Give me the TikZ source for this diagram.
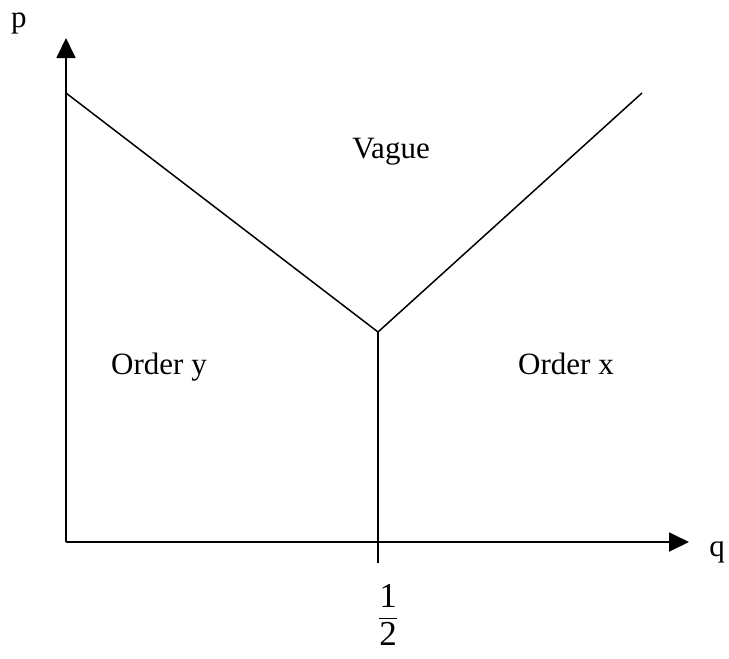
\documentclass[tikz,border=0pt]{standalone}
\usepackage{amsmath}
\usepackage{fontspec}
\setmainfont{Liberation Serif}
\usetikzlibrary{arrows.meta}

\begin{document}
\begin{tikzpicture}[x=1pt,y=-1pt,
  every node/.style={font=\fontsize{31}{37}\selectfont,inner sep=0pt},
  axis/.style={line width=1.8pt,-{Triangle[length=20pt,width=19pt]}},
  border/.style={line width=1.5pt}]
\useasboundingbox (0,0) rectangle (729,659);
\coordinate (o) at (66,542);
\coordinate (ptip) at (66,38);
\coordinate (qtip) at (689,542);
\coordinate (ltop) at (66,93);
\coordinate (rtop) at (642,93);
\coordinate (v) at (378,332);
\coordinate (vbot) at (378,563);

\draw[axis] (o) -- (ptip);
\draw[axis] (o) -- (qtip);
\draw[border] (ltop) -- (v) -- (rtop);
\draw[line width=1.8pt] (v) -- (vbot);

\node[anchor=base] (p) at (19,27) {p};
\node[anchor=base] (q) at (717,556) {q};
\node[anchor=base] (vague) at (391,158) {Vague};
\node[anchor=base] (ordy) at (159,374) {Order y};
\node[anchor=base] (ordx) at (566,374) {Order x};
\node[font=\fontsize{35}{42}\selectfont] (half) at (388,615) {$\dfrac{\text{1}}{\text{2}}$};
\end{tikzpicture}
\end{document}
